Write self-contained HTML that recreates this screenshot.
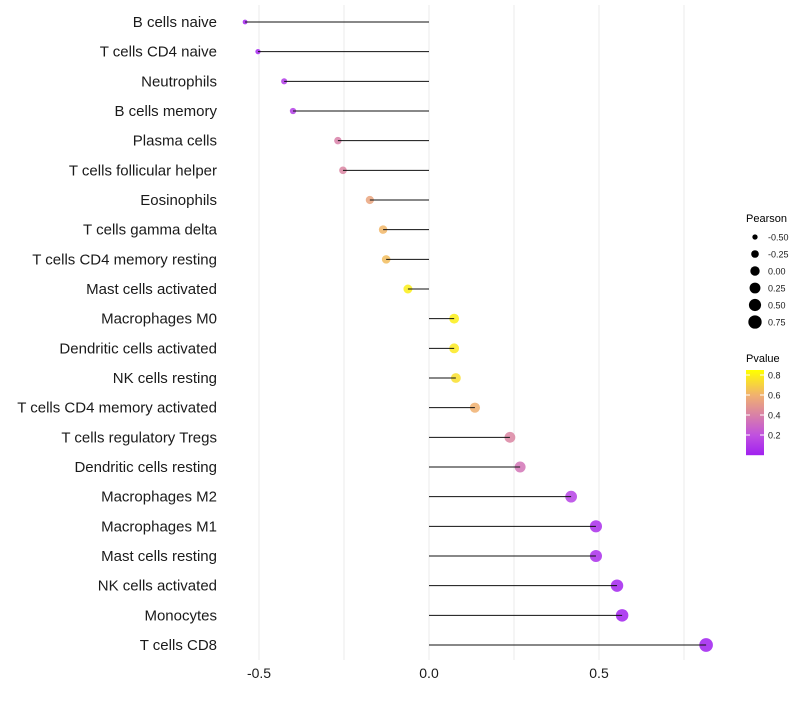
<!DOCTYPE html>
<html><head><meta charset="utf-8"><style>
body{margin:0;background:#fff;font-family:"Liberation Sans",sans-serif}
</style></head><body>
<svg id="c" width="800" height="700" xmlns="http://www.w3.org/2000/svg"></svg>
<script>
const categories=["B cells naive","T cells CD4 naive","Neutrophils","B cells memory","Plasma cells","T cells follicular helper","Eosinophils","T cells gamma delta","T cells CD4 memory resting","Mast cells activated","Macrophages M0","Dendritic cells activated","NK cells resting","T cells CD4 memory activated","T cells regulatory  Tregs ","Dendritic cells resting","Macrophages M2","Macrophages M1","Mast cells resting","NK cells activated","Monocytes","T cells CD8"];
const pearson=[-0.541,-0.503,-0.426,-0.40,-0.268,-0.253,-0.174,-0.135,-0.126,-0.062,0.074,0.074,0.079,0.135,0.238,0.268,0.418,0.491,0.491,0.553,0.568,0.815];
const pvalue=[0.02,0.03,0.1,0.12,0.4,0.42,0.55,0.62,0.64,0.8,0.8,0.78,0.75,0.6,0.42,0.35,0.14,0.06,0.06,0.02,0.01,0.0];
const xTicks=[-0.5,0,0.5];
const xTickLabels=["-0.5","0.0","0.5"];
const sizeLegend=[-0.5,-0.25,0,0.25,0.5,0.75];
const colorLegend=[0.2,0.4,0.6,0.8];
const NS="http://www.w3.org/2000/svg";
const svg=document.getElementById('c');
const X=v=>429+v*340;
const Y=i=>22+i*(645-22)/(categories.length-1);
const R=v=>Math.sqrt(Math.max(1,22+30*v));
const stops=[[0,[160,32,240]],[0.2,[192,80,224]],[0.4,[216,128,168]],[0.6,[240,176,112]],[0.85,[255,255,0]]];
function col(p){p=Math.max(0,Math.min(0.85,p));for(let i=1;i<stops.length;i++){if(p<=stops[i][0]){const a=stops[i-1],b=stops[i],t=(p-a[0])/(b[0]-a[0]);return 'rgb('+a[1].map((c,k)=>Math.round(c+(b[1][k]-c)*t)).join(',')+')';}}return 'rgb(255,255,0)';}
function el(t,a,txt){const e=document.createElementNS(NS,t);for(const k in a)e.setAttribute(k,a[k]);if(txt!==undefined)e.textContent=txt;svg.appendChild(e);return e;}
[-0.5,-0.25,0,0.25,0.5,0.75].forEach(v=>{const g=el('line',{x1:X(v),x2:X(v),y1:5,y2:660,stroke:'#ebebeb','stroke-width':1});

});
categories.forEach((c,i)=>{
 const d=el('circle',{cx:X(pearson[i]),cy:Y(i),r:R(pearson[i]),fill:col(pvalue[i]),'fill-opacity':0.85});
 
 
 const l=el('line',{x1:X(0),x2:X(pearson[i]),y1:Y(i),y2:Y(i),stroke:'#111','stroke-width':1});
 
 
 const t=el('text',{x:217,y:Y(i)+5,'text-anchor':'end','font-size':15,fill:'#1a1a1a'},c);
 
 
});
xTicks.forEach((v,i)=>{const t=el('text',{x:X(v),y:678,'text-anchor':'middle','font-size':14,fill:'#1a1a1a'},xTickLabels[i]);

});
const lt=el('text',{x:746,y:222,'font-size':11,fill:'#000'},'Pearson');


sizeLegend.forEach((v,i)=>{const y=237+i*17;
 const c=el('circle',{cx:755,cy:y,r:R(v),fill:'#000'});
 
 
 const t=el('text',{x:768,y:y+3.5,'font-size':9,fill:'#1a1a1a'},v.toFixed(2));
 
 });
const ct=el('text',{x:746,y:362,'font-size':11,fill:'#000'},'Pvalue');


for(let y=370;y<455;y++){const r=el('rect',{x:746,y:y,width:18,height:1.2,fill:col((455-y)/100)});

}
colorLegend.forEach(v=>{const y=455-v*100;
 const t=el('text',{x:768,y:y+3.5,'font-size':9,fill:'#1a1a1a'},v.toFixed(1));
 
 
 el('line',{x1:746,x2:750,y1:y,y2:y,stroke:'#fff'});el('line',{x1:760,x2:764,y1:y,y2:y,stroke:'#fff'});});
</script>
</body></html>
